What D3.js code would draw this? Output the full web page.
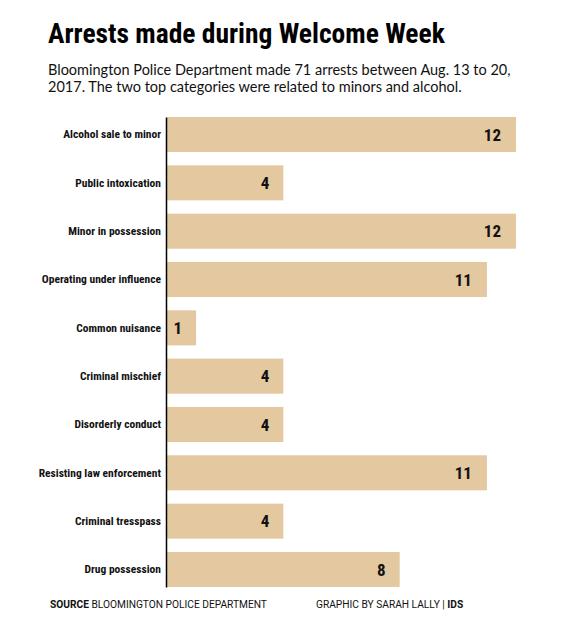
<!DOCTYPE html>
<html>
<head>
<meta charset="utf-8">
<script src="https://cdn.jsdelivr.net/npm/d3@7"></script>
<style>
  body { margin: 0; background: #fff; }
  svg { display: block; }
  .title { font-family: "Roboto Condensed", Roboto, sans-serif; font-weight: bold; font-size: 27.5px; fill: #000; }
  .subtitle { font-family: Lato, "Open Sans", sans-serif; font-size: 14.5px; fill: #111; }
  .catLabel { font-family: "Roboto Condensed", Roboto, sans-serif; font-weight: bold; font-size: 11.5px; fill: #111; }
  .valueLabel { font-family: "Roboto Condensed", Roboto, sans-serif; font-weight: bold; font-size: 17px; fill: #111; }
  .footer { font-family: Roboto, sans-serif; font-size: 10.2px; fill: #111; }
</style>
</head>
<body>
<div id="chart"></div>
<script>
var categories = [
    "Alcohol sale to minor",
    "Public intoxication",
    "Minor in possession",
    "Operating under influence",
    "Common nuisance",
    "Criminal mischief",
    "Disorderly conduct",
    "Resisting law enforcement",
    "Criminal tresspass",
    "Drug possession"
];
var arrests = [12, 4, 12, 11, 1, 4, 4, 11, 4, 8];

var data = categories.map((c, i) => ({ category: c, value: arrests[i] }));

var svgWidth = 569;
var svgHeight = 629;
var margin = { top: 117, right: 53, bottom: 42, left: 167 };

var width = svgWidth - margin.left - margin.right;
var height = svgHeight - margin.top - margin.bottom;

var svg = d3.select("#chart")
    .append("svg")
    .attr("width", svgWidth)
    .attr("height", svgHeight);

// title + subtitle
svg.append("text")
    .attr("class", "title")
    .attr("x", 48)
    .attr("y", 43)
    .text("Arrests made during Welcome Week");

svg.append("text")
    .attr("class", "subtitle")
    .attr("x", 48)
    .attr("y", 75)
    .text("Bloomington Police Department made 71 arrests between Aug. 13 to 20,");
svg.append("text")
    .attr("class", "subtitle")
    .attr("x", 48)
    .attr("y", 92)
    .text("2017. The two top categories were related to minors and alcohol.");

var chartGroup = svg.append("g")
    .attr("transform", `translate(${margin.left}, ${margin.top})`);

// scales
var xScale = d3.scaleLinear()
    .domain([0, 12])
    .range([0, width]);

var yScale = d3.scaleBand()
    .domain(categories)
    .range([0, height])
    .paddingInner(0.275)
    .paddingOuter(0);

// bars
chartGroup.selectAll("rect")
    .data(data)
    .enter()
    .append("rect")
    .attr("x", 0)
    .attr("y", d => yScale(d.category))
    .attr("width", d => xScale(d.value))
    .attr("height", yScale.bandwidth())
    .attr("fill", "#e3c8a0");

// value labels, right-aligned inside the bar end
chartGroup.selectAll(".valueLabel")
    .data(data)
    .enter()
    .append("text")
    .attr("class", "valueLabel")
    .attr("x", d => xScale(d.value) - (d.value < 10 ? 14 : 15))
    .attr("y", d => yScale(d.category) + yScale.bandwidth() / 2)
    .attr("dy", "0.36em")
    .attr("text-anchor", "end")
    .text(d => d.value);

// left axis: just the line + labels
var leftAxis = d3.axisLeft(yScale).tickSize(0).tickPadding(6);
var axisG = chartGroup.append("g").call(leftAxis);
axisG.select(".domain")
    .attr("stroke", "#000")
    .attr("stroke-width", 1.5)
    .attr("transform", "translate(-1,0)");
axisG.selectAll(".tick text")
    .attr("class", "catLabel")
    .attr("font-family", null)
    .attr("font-size", null)
    .attr("fill", null);

// footer
var footer = svg.append("text")
    .attr("class", "footer")
    .attr("x", 50)
    .attr("y", 608);
footer.append("tspan").attr("font-weight", "bold").text("SOURCE");
footer.append("tspan").text(" BLOOMINGTON POLICE DEPARTMENT");

var credit = svg.append("text")
    .attr("class", "footer")
    .attr("x", 316)
    .attr("y", 608);
credit.append("tspan").text("GRAPHIC BY SARAH LALLY | ");
credit.append("tspan").attr("font-weight", "bold").text(" IDS");
</script>
</body>
</html>
